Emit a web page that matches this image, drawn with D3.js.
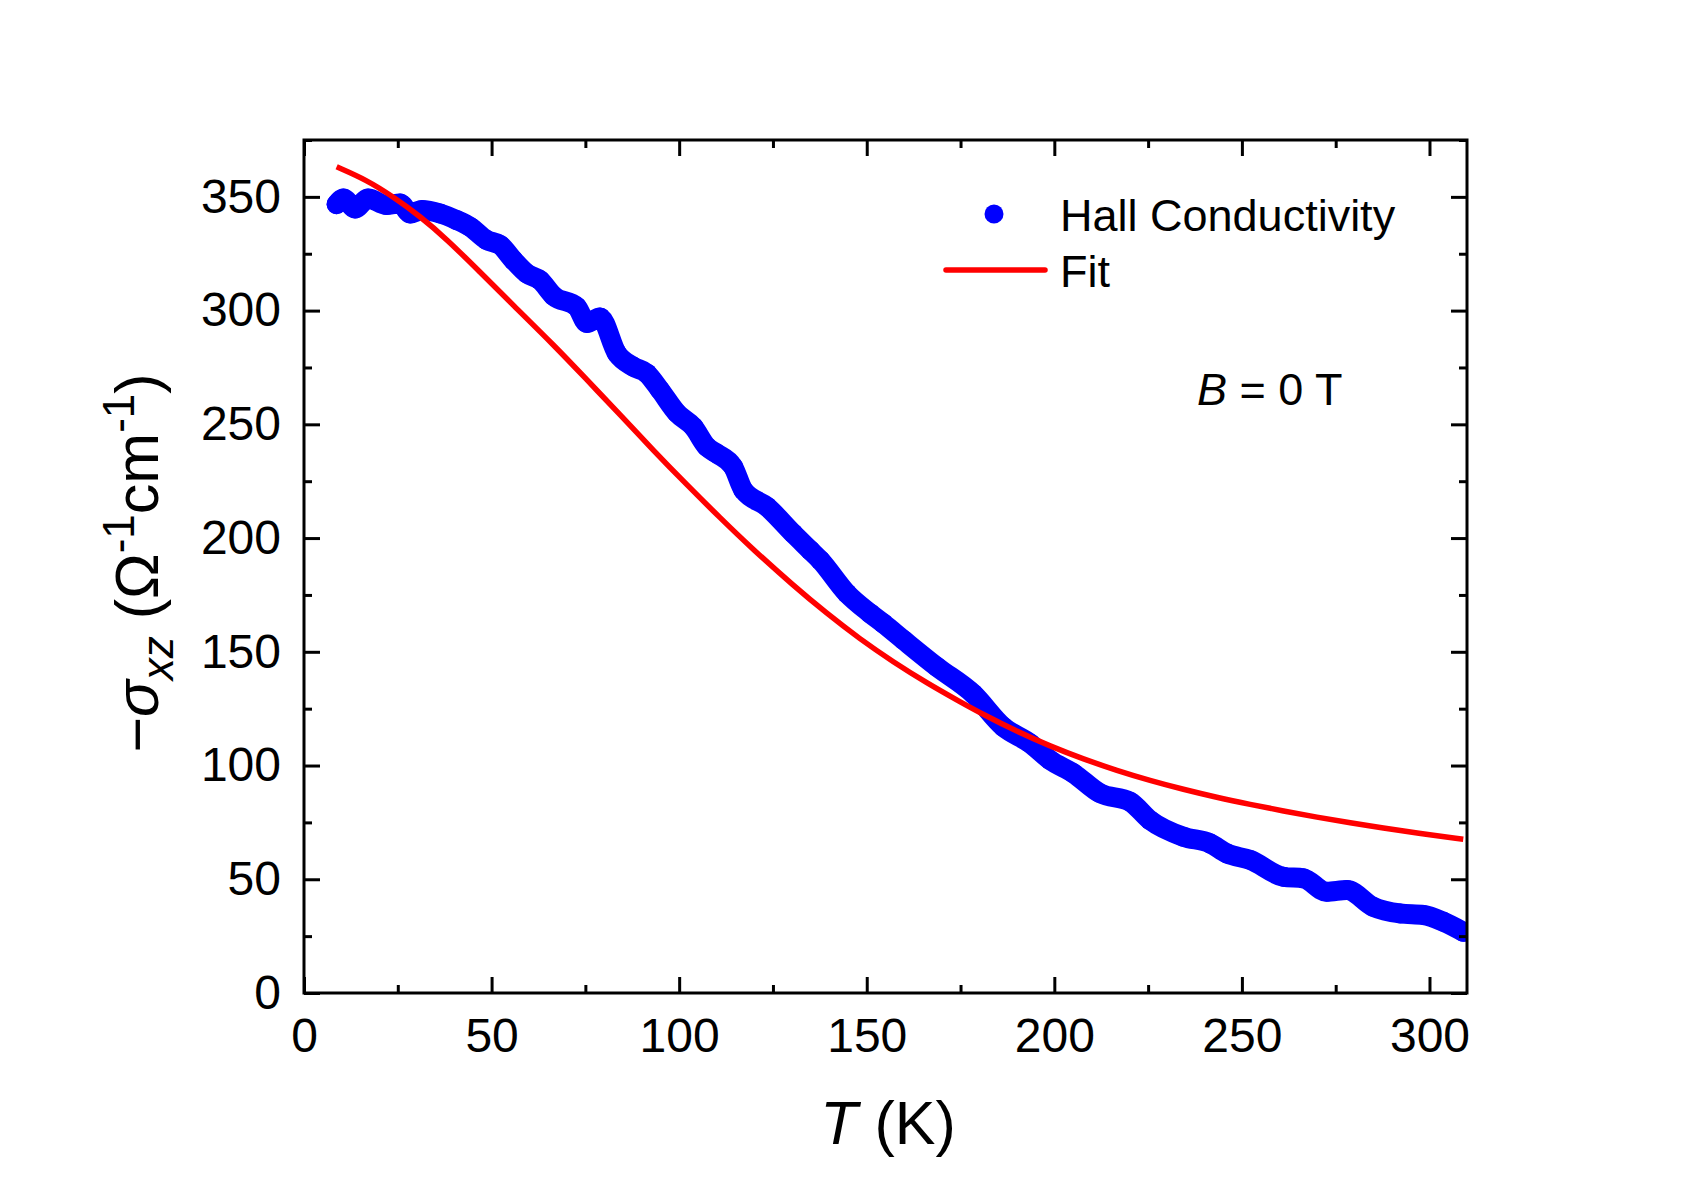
<!DOCTYPE html>
<html>
<head>
<meta charset="utf-8">
<script src="https://cdn.jsdelivr.net/npm/d3@7"></script>
<style>
  body { margin: 0; background: white; }
  text { font-family: "Liberation Sans", Arial, sans-serif; fill: #000; }
</style>
</head>
<body>
<svg id="chart" width="1705" height="1192"></svg>
<script>
// Hall conductivity (blue points)
const hallT = [8.7, 10.5, 13.6, 17.1, 22, 25.6, 28.3, 31.4, 36.3, 40.7, 44.3, 48.7, 52.3, 55.8, 59.4, 62.9, 66.5, 72.7, 75.4, 78.9,
    83.4, 87.8, 91.4, 94.9, 99.4, 103.8, 107.4, 110, 114.4, 117.1, 123.4, 130.4, 134.9, 137.6, 144.7, 150.9, 154.4, 159.8, 168.7,
    178.4, 186.4, 193.5, 198.9, 205.1, 212.2, 220.2, 225.5, 234.4, 241.5, 246, 252.2, 261.1, 266.4, 272.6, 278, 285, 292.2,
    298.4, 303.7, 309];
const hallSigma = [346.8, 349.3, 344.9, 349.3, 346.4, 347.1, 342.7, 344.2, 342.7, 339.8, 336.8, 331, 328.8, 322.2, 316.3, 313.4,
    306.5, 301.7, 294.6, 297, 281.2, 275.3, 272.4, 265.1, 255, 248.9, 240.1, 237.2, 231.3, 221.1, 213.8, 202, 194.7, 190.3, 175.7,
    166.9, 162.5, 155.2, 143.4, 131.5, 117, 109.8, 102.4, 96.6, 87.8, 84.1, 76, 68.7, 65.8, 61.4, 58.5, 51.1, 50.4, 44.5, 45.3,
    37.9, 35, 34.3, 31.3, 26.9];

// Fit curve (red line)
const fitT = [8.7, 16.7, 23.8, 30.9, 38, 46.9, 55.8, 66.5, 75.4, 84.2, 93.1, 102, 110.9, 119.8, 130.4, 139.3, 148.2, 157.1,
    166, 174.9, 181.1, 190, 198.9, 207.8, 216.7, 225.5, 234.4, 243.3, 252.2, 261.1, 270, 278.9, 287.7, 296.6, 309];
const fitSigma = [363.2, 357.4, 350.0, 341.5, 331.5, 317, 302.3, 285.0, 269.6, 254.3, 238.6, 223.5, 208.9, 194.8, 179.2, 166.9,
    155.6, 145.5, 136.3, 128.0, 122.4, 115.0, 108.5, 102.8, 97.8, 93.4, 89.5, 86.0, 82.9, 80.0, 77.3, 74.8, 72.5, 70.3, 67.6];

const xMajor = [0, 50, 100, 150, 200, 250, 300];
const xMinor = [25, 75, 125, 175, 225, 275];
const yMajor = [0, 50, 100, 150, 200, 250, 300, 350];
const yMinor = [25, 75, 125, 175, 225, 275, 325, 375];

const svg = d3.select("#chart");
const plotLeft = 304, plotRight = 1467, plotTop = 140, plotBottom = 993;

const x = d3.scaleLinear().domain([0, 310]).range([plotLeft, plotRight]);
const y = d3.scaleLinear().domain([0, 375]).range([plotBottom, plotTop]);

const hallData = hallT.map((t, i) => ({ t: t, v: hallSigma[i] }));
const fitData = fitT.map((t, i) => ({ t: t, v: fitSigma[i] }));

// clip so marks stay inside the frame
svg.append("clipPath").attr("id", "plotClip")
    .append("rect").attr("x", plotLeft).attr("y", plotTop).attr("width", plotRight - plotLeft).attr("height", plotBottom - plotTop);

const plot = svg.append("g").attr("clip-path", "url(#plotClip)");

// dense markers -> thick band plus the points themselves
plot.append("path").datum(hallData)
    .attr("fill", "none").attr("stroke", "#0000ff").attr("stroke-width", 20)
    .attr("stroke-linejoin", "round").attr("stroke-linecap", "round")
    .attr("d", d3.line().x(d => x(d.t)).y(d => y(d.v)).curve(d3.curveMonotoneX));

plot.selectAll("circle.hall").data(hallData).enter().append("circle").attr("class", "hall")
    .attr("cx", d => x(d.t)).attr("cy", d => y(d.v)).attr("r", 10).attr("fill", "#0000ff");

plot.append("path").datum(fitData)
    .attr("fill", "none").attr("stroke", "#ff0000").attr("stroke-width", 5.5)
    .attr("d", d3.line().x(d => x(d.t)).y(d => y(d.v)).curve(d3.curveBasis));

// axes, ticks pointing inward on all four sides
function styleAxis(g) {
    g.select(".domain").remove();
    g.selectAll("line").attr("stroke", "#000").attr("stroke-width", 3);
    g.selectAll("text").style("font-size", "48px").style("font-family", "'Liberation Sans', Arial, sans-serif").attr("fill", "#000");
}

svg.append("g").attr("transform", `translate(0,${plotBottom})`)
    .call(d3.axisBottom(x).tickValues(xMajor).tickSize(-16).tickPadding(25).tickSizeOuter(0).tickFormat(d3.format("d")))
    .call(styleAxis);
svg.append("g").attr("transform", `translate(0,${plotBottom})`)
    .call(d3.axisBottom(x).tickValues(xMinor).tickSize(-8).tickFormat("").tickSizeOuter(0)).call(styleAxis);
svg.append("g").attr("transform", `translate(0,${plotTop})`)
    .call(d3.axisTop(x).tickValues(xMajor).tickSize(-16).tickFormat("").tickSizeOuter(0)).call(styleAxis);
svg.append("g").attr("transform", `translate(0,${plotTop})`)
    .call(d3.axisTop(x).tickValues(xMinor).tickSize(-8).tickFormat("").tickSizeOuter(0)).call(styleAxis);

svg.append("g").attr("transform", `translate(${plotLeft},0)`)
    .call(d3.axisLeft(y).tickValues(yMajor).tickSize(-16).tickPadding(23).tickSizeOuter(0).tickFormat(d3.format("d")))
    .call(styleAxis);
svg.append("g").attr("transform", `translate(${plotLeft},0)`)
    .call(d3.axisLeft(y).tickValues(yMinor).tickSize(-8).tickFormat("").tickSizeOuter(0)).call(styleAxis);
svg.append("g").attr("transform", `translate(${plotRight},0)`)
    .call(d3.axisRight(y).tickValues(yMajor).tickSize(-16).tickFormat("").tickSizeOuter(0)).call(styleAxis);
svg.append("g").attr("transform", `translate(${plotRight},0)`)
    .call(d3.axisRight(y).tickValues(yMinor).tickSize(-8).tickFormat("").tickSizeOuter(0)).call(styleAxis);

svg.append("rect").attr("x", plotLeft).attr("y", plotTop).attr("width", plotRight - plotLeft).attr("height", plotBottom - plotTop)
    .attr("fill", "none").attr("stroke", "#000").attr("stroke-width", 3);

// axis titles
const xTitle = svg.append("text").attr("x", 888).attr("y", 1144).attr("text-anchor", "middle").style("font-size", "61px");
xTitle.append("tspan").style("font-style", "italic").text("T");
xTitle.append("tspan").text(" (K)");

const yTitle = svg.append("text").attr("transform", "translate(158,563) rotate(-90)")
    .attr("text-anchor", "middle").style("font-size", "61px");
yTitle.append("tspan").text("\u2212");
yTitle.append("tspan").style("font-style", "italic").text("σ");
yTitle.append("tspan").style("font-style", "italic").style("font-size", "44px").attr("dy", 15).text("xz");
yTitle.append("tspan").attr("dy", -15).text(" (Ω");
yTitle.append("tspan").style("font-size", "44px").attr("dy", -24).text("-1");
yTitle.append("tspan").attr("dy", 24).text("cm");
yTitle.append("tspan").style("font-size", "44px").attr("dy", -24).text("-1");
yTitle.append("tspan").attr("dy", 24).text(")");

// legend
svg.append("circle").attr("cx", 994).attr("cy", 214).attr("r", 9.5).attr("fill", "#0000ff");
svg.append("line").attr("x1", 946).attr("x2", 1045).attr("y1", 270).attr("y2", 270)
    .attr("stroke", "#ff0000").attr("stroke-width", 5.5).attr("stroke-linecap", "round");
svg.append("text").attr("x", 1060).attr("y", 231).style("font-size", "45px").text("Hall Conductivity");
svg.append("text").attr("x", 1060).attr("y", 287).style("font-size", "45px").text("Fit");

const bLabel = svg.append("text").attr("x", 1197).attr("y", 405).style("font-size", "45px");
bLabel.append("tspan").style("font-style", "italic").text("B");
bLabel.append("tspan").text(" = 0 T");
</script>
</body>
</html>
